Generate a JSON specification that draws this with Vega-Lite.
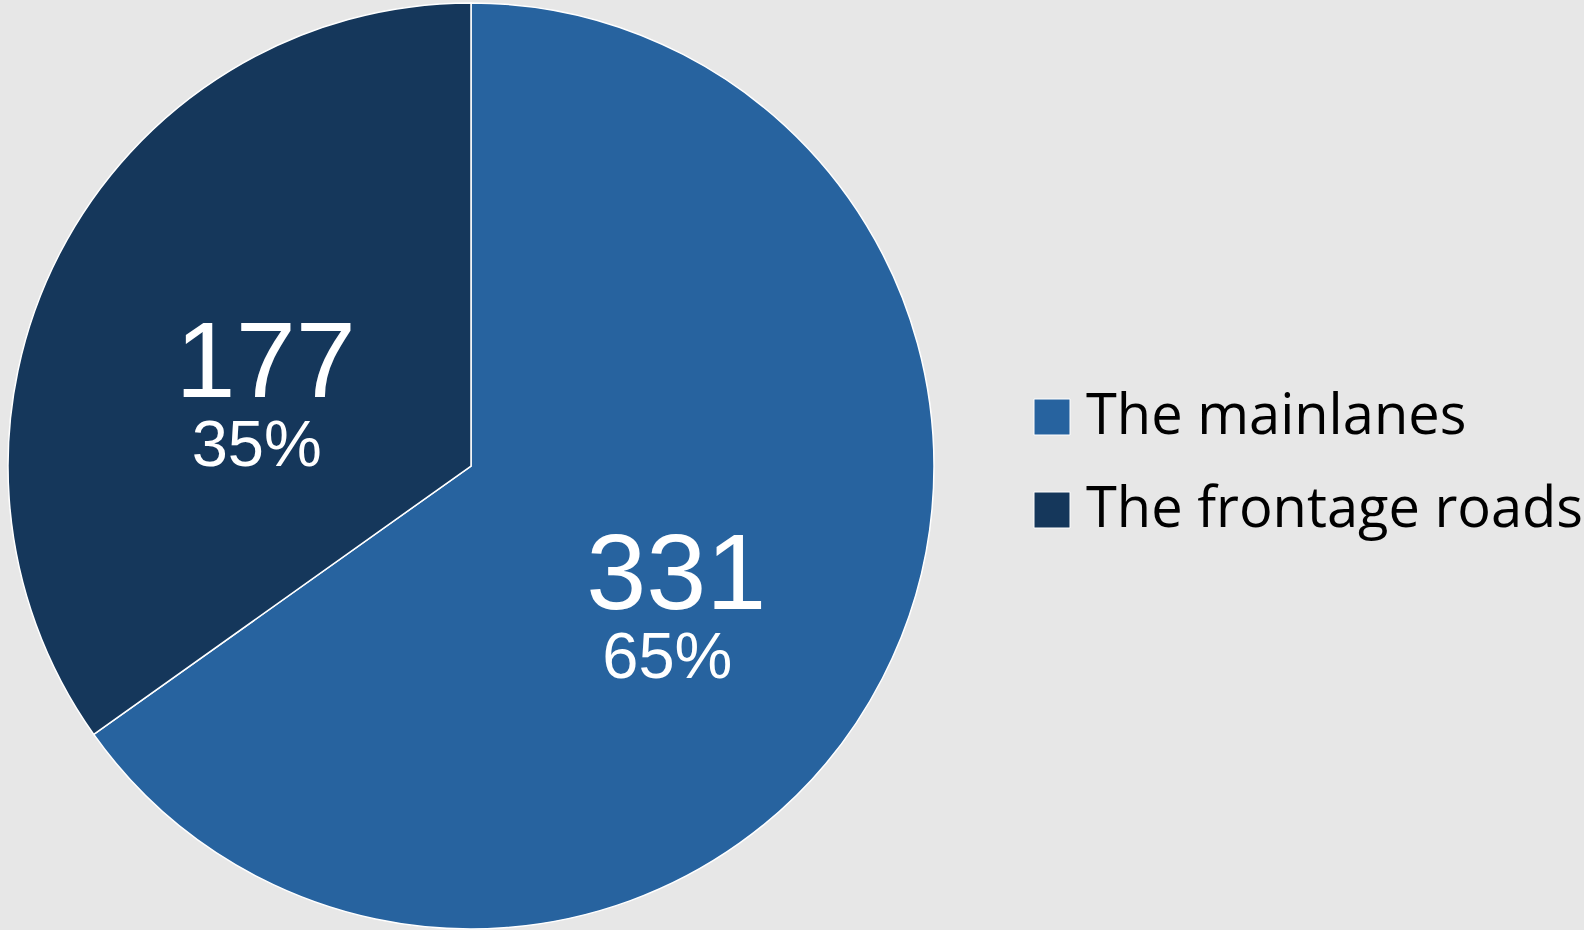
{
  "$schema": "https://vega.github.io/schema/vega-lite/v6.json",
  "width": 942,
  "height": 932,
  "padding": 0,
  "autosize": {"type": "pad"},
  "background": "#e7e7e7",
  "view": {"stroke": null},
  "data": {
    "values": [
      {"category": "The mainlanes", "count": 331, "pct": "65%", "idx": 1},
      {"category": "The frontage roads", "count": 177, "pct": "35%", "idx": 2}
    ]
  },
  "encoding": {
    "theta": {"field": "count", "type": "quantitative", "stack": true},
    "order": {"field": "idx", "type": "quantitative"}
  },
  "layer": [
    {
      "mark": {"type": "arc", "outerRadius": 463, "stroke": "#ffffff", "strokeWidth": 1.5},
      "encoding": {
        "color": {
          "field": "category",
          "type": "nominal",
          "scale": {"domain": ["The mainlanes", "The frontage roads"], "range": ["#27639f", "#15375b"]},
          "legend": {
            "title": null,
            "orient": "none",
            "legendX": 1024,
            "legendY": 389,
            "symbolType": "square",
            "symbolSize": 1296,
            "symbolStrokeColor": "#ffffff",
            "symbolStrokeWidth": 1,
            "labelFont": "Open Sans",
            "labelFontSize": 56,
            "labelColor": "#000000",
            "labelOffset": 6,
            "labelLimit": 600,
            "rowPadding": 37
          }
        }
      }
    },
    {
      "mark": {"type": "text", "radius": 231, "dy": 5, "font": "Liberation Sans", "fontSize": 108, "fill": "#ffffff", "baseline": "middle", "align": "center"},
      "encoding": {"text": {"field": "count", "type": "quantitative"}}
    },
    {
      "mark": {"type": "text", "radius": 231, "dy": 86, "dx": -9, "font": "Liberation Sans", "fontSize": 65, "fill": "#ffffff", "baseline": "middle", "align": "center"},
      "encoding": {"text": {"field": "pct", "type": "nominal"}}
    }
  ]
}
